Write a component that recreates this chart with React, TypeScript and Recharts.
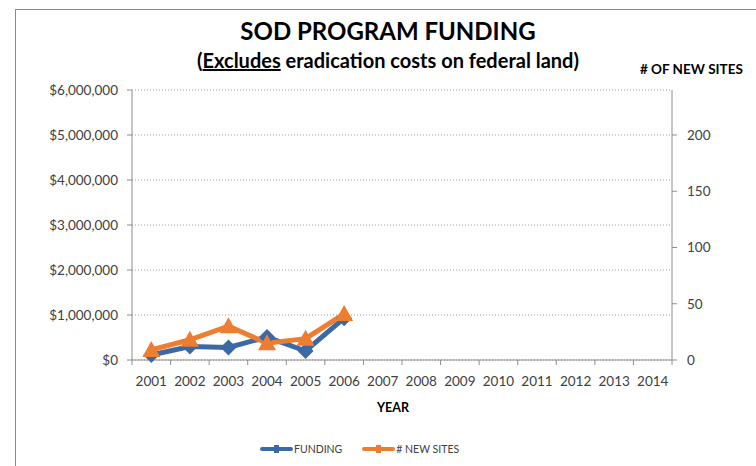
import React from "react"
import { LineChart, Line, XAxis, YAxis, CartesianGrid } from "recharts"

const years = ["2001", "2002", "2003", "2004", "2005", "2006", "2007", "2008", "2009", "2010", "2011", "2012", "2013", "2014"]
const funding = [110000, 300000, 280000, 510000, 200000, 930000, null, null, null, null, null, null, null, null]
const newSites = [9, 18, 30, 15, 19, 41, null, null, null, null, null, null, null, null]
const fundingTicks = [0, 1000000, 2000000, 3000000, 4000000, 5000000, 6000000]
const siteTicks = [0, 50, 100, 150, 200]

const data = years.map((year, i) => ({ year, funding: funding[i], sites: newSites[i] }))

const BLUE = "#3B69A5"
const ORANGE = "#ED7D31"
const AXIS = "#8C8C8C"
const FONT = "Lato, 'Open Sans', sans-serif"

const money = (v: number) => "$" + v.toLocaleString("en-US")

const XTick = (props: any) => {
  const { x, y, payload, index } = props
  const off = payload.offset || 0
  return (
    <g>
      <line x1={x - off} x2={x - off} y1={y} y2={y + 5} stroke={AXIS} />
      {index === years.length - 1 && <line x1={x + off} x2={x + off} y1={y} y2={y + 5} stroke={AXIS} />}
      <text x={x} y={y + 26} textAnchor="middle" fill="#404040" fontSize={13.5} fontFamily={FONT}>{payload.value}</text>
    </g>
  )
}

const Diamond = (props: any) => {
  const { cx, cy, index } = props
  if (cx == null || cy == null) return <g key={`fd-${index}`} />
  return <polygon key={`fd-${index}`} points={`${cx},${cy - 8} ${cx + 8},${cy} ${cx},${cy + 8} ${cx - 8},${cy}`} fill={BLUE} />
}

const Triangle = (props: any) => {
  const { cx, cy, index } = props
  if (cx == null || cy == null) return <g key={`st-${index}`} />
  return <polygon key={`st-${index}`} points={`${cx},${cy - 9} ${cx + 9},${cy + 7} ${cx - 9},${cy + 7}`} fill={ORANGE} />
}

const LegendItem = ({ color, label }: { color: string; label: string }) => (
  <div style={{ display: "flex", alignItems: "center", marginRight: 20 }}>
    <div style={{ width: 33, height: 4, background: color, borderRadius: 2, position: "relative" }}>
      <div style={{ position: "absolute", left: 14, top: -2, width: 5, height: 8, background: color }} />
    </div>
    <span style={{ fontSize: 10.5, color: "#404040", marginLeft: 1 }}>{label}</span>
  </div>
)

export default function App() {
  return (
    <div style={{ position: "absolute", left: 0, top: 0, width: 756, height: 466, background: "#fff", overflow: "hidden", fontFamily: FONT }}>
      <div style={{ position: "absolute", left: 15, top: 9, width: 800, height: 500, borderLeft: "1.5px solid #8a8a8a", borderTop: "1.5px solid #8a8a8a" }} />

      <div style={{ position: "absolute", left: 0, width: 776, top: 16, textAlign: "center", fontSize: 24, fontWeight: 700, color: "#000" }}>
        SOD PROGRAM FUNDING
      </div>
      <div style={{ position: "absolute", left: 0, width: 776, top: 48, textAlign: "center", fontSize: 20, fontWeight: 700, color: "#000" }}>
        (<span style={{ textDecoration: "underline" }}>Excludes</span> eradication costs on federal land)
      </div>
      <div style={{ position: "absolute", left: 640, top: 61, fontSize: 13.5, fontWeight: 700, color: "#000" }}># OF NEW SITES</div>
      <div style={{ position: "absolute", left: 0, width: 786, top: 400, textAlign: "center", fontSize: 12.5, fontWeight: 700, color: "#000" }}>YEAR</div>

      <div style={{ position: "absolute", left: 260, top: 443, display: "flex" }}>
        <LegendItem color={BLUE} label="FUNDING" />
        <LegendItem color={ORANGE} label="# NEW SITES" />
      </div>

      <div style={{ position: "absolute", left: 0, top: 0 }}>
        <LineChart width={756} height={466} data={data} margin={{ top: 90, right: 0, bottom: 76, left: 0 }}>
          <CartesianGrid horizontal vertical={false} stroke="#9a9a9a" strokeDasharray="1 2" yAxisId="money" />
          <XAxis dataKey="year" scale="band" height={30} tickSize={0} tickMargin={0} axisLine={{ stroke: AXIS }} tickLine={false} tick={<XTick />} interval={0} />
          <YAxis
            yAxisId="money"
            width={132}
            domain={[0, 6000000]}
            ticks={fundingTicks}
            tickFormatter={money}
            axisLine={{ stroke: AXIS }}
            tickLine={{ stroke: AXIS }}
            tickSize={5}
            tickMargin={9}
            tick={{ fill: "#404040", fontSize: 13.5, fontFamily: FONT }}
          />
          <YAxis
            yAxisId="sites"
            orientation="right"
            width={84}
            domain={[0, 240]}
            ticks={siteTicks}
            axisLine={{ stroke: AXIS }}
            tickLine={{ stroke: AXIS }}
            tickSize={5}
            tickMargin={10}
            tick={{ fill: "#404040", fontSize: 13.5, fontFamily: FONT }}
          />
          <Line yAxisId="money" dataKey="funding" stroke={BLUE} strokeWidth={5} dot={<Diamond />} isAnimationActive={false} connectNulls={false} />
          <Line yAxisId="sites" dataKey="sites" stroke={ORANGE} strokeWidth={5} dot={<Triangle />} isAnimationActive={false} connectNulls={false} />
        </LineChart>
      </div>
    </div>
  )
}
